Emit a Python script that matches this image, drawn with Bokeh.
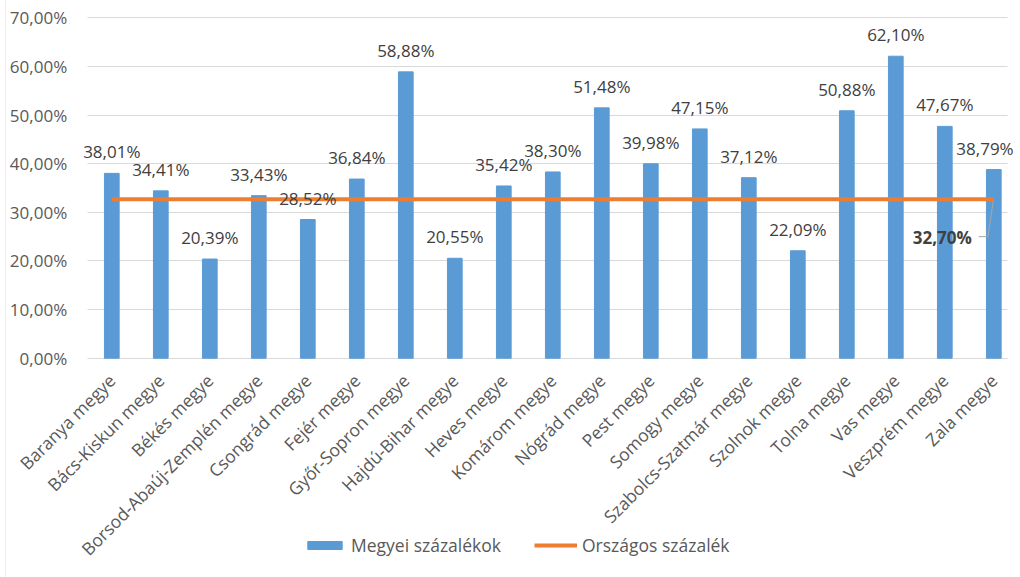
import math
from bokeh.plotting import figure
from bokeh.models import (Range1d, FixedTicker, Legend, LegendItem, Grid, Span,
                          LabelSet, Label, ColumnDataSource)
from bokeh.embed import file_html
from bokeh.resources import INLINE
from bokeh.core.properties import value

categories = ["Baranya megye", "Bács-Kiskun megye", "Békés megye", "Borsod-Abaúj-Zemplén megye",
              "Csongrád megye", "Fejér megye", "Győr-Sopron megye", "Hajdú-Bihar megye",
              "Heves megye", "Komárom megye", "Nógrád megye", "Pest megye", "Somogy megye",
              "Szabolcs-Szatmár megye", "Szolnok megye", "Tolna megye", "Vas megye",
              "Veszprém megye", "Zala megye"]
county_pct = [38.01, 34.41, 20.39, 33.43, 28.52, 36.84, 58.88, 20.55, 35.42, 38.30,
              51.48, 39.98, 47.15, 37.12, 22.09, 50.88, 62.10, 47.67, 38.79]
national_pct = 32.70
y_ticks = [0, 10, 20, 30, 40, 50, 60, 70]
y_tick_labels = ["0,00%", "10,00%", "20,00%", "30,00%", "40,00%", "50,00%", "60,00%", "70,00%"]
series_names = ["Megyei százalékok", "Országos százalék"]

FONT = "Open Sans"
BLUE = "#5b9bd5"
ORANGE = "#ed7d31"
FS_NUM = "17px"
FS_TXT = "17.5px"


def fmt(v):
    return f"{v:.2f}".replace(".", ",") + "%"


# ---- layout (pixels of the 1020x577 picture) ----
W, H = 1020, 577
top_px, zero_px = 17.3, 357.7
first_center_px, step_px = 111.3, 49.0
grid_left_px, grid_right_px = 86.7, 1006.7
border_px = 5.0
label_w_px, right_pad_px = 59.0, 6.0

px_per_unit = (zero_px - top_px) / 70.0
y_end = 70.0 + top_px / px_per_unit
y_start = -(H - zero_px) / px_per_unit
x_start = -first_center_px / step_px
x_end = (W - first_center_px) / step_px
xs = list(range(len(categories)))

# data labels that would run past the right edge are nudged left (as Excel does)
nudges = []
for i in xs:
    right_edge = first_center_px + i * step_px + label_w_px / 2
    nudges.append(min(0.0, (W - right_pad_px) - right_edge))

# The frame covers the whole picture so the labels and legend are not clipped.
p = figure(x_range=Range1d(x_start, x_end), y_range=Range1d(y_start, y_end),
           width=W, height=H, output_backend="svg", toolbar_location=None, title=None,
           min_border_left=0, min_border_right=0, min_border_top=0, min_border_bottom=0)
p.outline_line_color = None

# faint chart-area border on the left
p.add_layout(Span(location=(border_px - first_center_px) / step_px, dimension="height",
                  line_color="#eeeeee", line_width=1))

src = ColumnDataSource(dict(x=xs, cat=categories, val=county_pct, dx=nudges,
                            lbl=[fmt(v) for v in county_pct]))
bars = p.vbar(x="x", top="val", width=0.3, source=src, fill_color=BLUE, line_color=BLUE)
nat_line = p.line(x=xs, y=[national_pct] * len(xs), line_color=ORANGE, line_width=4)

labels = LabelSet(x="x", y="val", text="lbl", source=src, text_align="center",
                  text_baseline="alphabetic", x_offset="dx", y_offset=15, text_font=value(FONT),
                  text_font_size=value(FS_NUM), text_color=value("#404040"))
p.add_layout(labels)

# national label with leader line, placed at last category
zi = xs[categories.index("Zala megye")]
p.line(x=[zi - 0.31, zi - 0.12, zi - 0.01], y=[25.0, 25.0, national_pct - 0.3],
       line_color="#a6a6a6", line_width=1)
p.add_layout(Label(x=zi, y=national_pct, x_offset=-22, y_offset=-38, text=fmt(national_pct),
                   text_font=FONT, text_font_size=FS_NUM, text_font_style="bold",
                   text_color="#404040", text_align="right", text_baseline="middle"))

# ---- axes ----
grid_x0 = (grid_left_px - first_center_px) / step_px
grid_x1 = (grid_right_px - first_center_px) / step_px

p.yaxis.fixed_location = grid_x0
p.yaxis.ticker = FixedTicker(ticks=y_ticks)
p.yaxis.major_label_overrides = dict(zip(y_ticks, y_tick_labels))
p.yaxis.axis_line_color = None
p.yaxis.major_tick_line_color = None
p.yaxis.minor_tick_line_color = None
p.yaxis.major_tick_out = 0
p.yaxis.major_tick_in = 0
p.yaxis.major_label_standoff = 20
p.yaxis.major_label_text_font = FONT
p.yaxis.major_label_text_font_size = FS_NUM
p.yaxis.major_label_text_color = "#595959"

p.xaxis.fixed_location = 0
p.xaxis.ticker = FixedTicker(ticks=xs)
p.xaxis.major_label_overrides = dict(zip(xs, categories))
p.xaxis.axis_line_color = None
p.xaxis.major_tick_line_color = None
p.xaxis.minor_tick_line_color = None
p.xaxis.major_tick_out = 0
p.xaxis.major_tick_in = 0
p.xaxis.major_label_orientation = math.pi / 4
p.xaxis.major_label_standoff = 19
p.xaxis.major_label_text_font = FONT
p.xaxis.major_label_text_font_size = FS_TXT
p.xaxis.major_label_text_color = "#595959"

p.xgrid.grid_line_color = None
if "cross_bounds" in Grid.properties():
    p.ygrid.ticker = FixedTicker(ticks=y_ticks)
    p.ygrid.grid_line_color = "#d9d9d9"
    p.ygrid.cross_bounds = (grid_x0, grid_x1)
else:
    p.ygrid.grid_line_color = None
    p.segment(x0=[grid_x0] * len(y_ticks), x1=[grid_x1] * len(y_ticks), y0=y_ticks, y1=y_ticks,
              line_color="#d9d9d9", line_width=1, level="underlay")

legend = Legend(items=[LegendItem(label=series_names[0], renderers=[bars]),
                       LegendItem(label=series_names[1], renderers=[nat_line])],
                orientation="horizontal", location=(303, 20),
                glyph_width=43, glyph_height=10, label_standoff=5, spacing=33,
                padding=0, margin=0, border_line_color=None, background_fill_alpha=0,
                label_text_font=FONT, label_text_font_size=FS_TXT, label_text_color="#595959")
p.add_layout(legend)

open("out.html", "w").write(file_html(p, INLINE))
